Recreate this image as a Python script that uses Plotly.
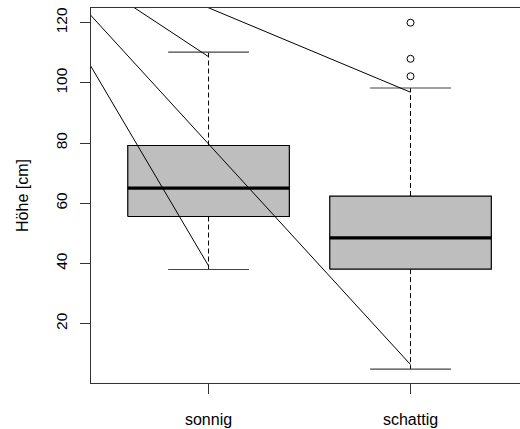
import plotly.graph_objects as go

# ---- data ----
categories = ["sonnig", "schattig"]
positions = [1, 2]
q1 = [55.6, 38.1]
median = [65.0, 48.5]
q3 = [79.2, 62.4]
whisker_lo = [38.0, 4.9]
whisker_hi = [110.2, 98.3]
outlier_x = [2, 2, 2]
outlier_y = [102.2, 108.0, 120.0]
# pointer lines: common origin and end points
pointer_origin = (0.0, 153.0)
pointer_end_x = [1, 1, 2, 2]
pointer_end_y = [39.2, 108.7, 6.4, 96.9]
y_ticks = [20, 40, 60, 80, 100, 120]

box_half = 0.4
staple_half = 0.2

fig = go.Figure()

for i, p in enumerate(positions):
    # dashed whiskers
    fig.add_trace(go.Scatter(x=[p, p], y=[q3[i], whisker_hi[i]], mode="lines",
                             line=dict(color="black", width=1, dash="5px,3px"),
                             hoverinfo="skip", showlegend=False))
    fig.add_trace(go.Scatter(x=[p, p], y=[q1[i], whisker_lo[i]], mode="lines",
                             line=dict(color="black", width=1, dash="5px,3px"),
                             hoverinfo="skip", showlegend=False))
    # staples
    for w in (whisker_hi[i], whisker_lo[i]):
        fig.add_trace(go.Scatter(x=[p - staple_half, p + staple_half], y=[w, w], mode="lines",
                                 line=dict(color="#444444", width=1.2),
                                 hoverinfo="skip", showlegend=False))
    # box
    fig.add_trace(go.Scatter(x=[p - box_half, p + box_half, p + box_half, p - box_half, p - box_half],
                             y=[q1[i], q1[i], q3[i], q3[i], q1[i]], mode="lines",
                             fill="toself", fillcolor="#bebebe",
                             line=dict(color="black", width=1.2),
                             hoverinfo="skip", showlegend=False))
    # median
    fig.add_trace(go.Scatter(x=[p - box_half, p + box_half], y=[median[i], median[i]], mode="lines",
                             line=dict(color="black", width=3.2),
                             hoverinfo="skip", showlegend=False))

# outliers
fig.add_trace(go.Scatter(x=outlier_x, y=outlier_y, mode="markers",
                         marker=dict(symbol="circle-open", size=7, color="black", line=dict(width=1)),
                         hoverinfo="skip", showlegend=False))

# pointer lines
for ex, ey in zip(pointer_end_x, pointer_end_y):
    fig.add_trace(go.Scatter(x=[pointer_origin[0], ex], y=[pointer_origin[1], ey], mode="lines",
                             line=dict(color="black", width=1),
                             hoverinfo="skip", showlegend=False))

fig.update_layout(
    width=520, height=429,
    margin=dict(l=91, r=0, t=8, b=46),
    paper_bgcolor="white", plot_bgcolor="white",
    font=dict(family="Liberation Sans, Arial, sans-serif", color="black"),
    showlegend=False,
)
fig.update_xaxes(range=[0.418, 2.542], tickvals=positions, ticktext=categories,
                 showgrid=False, zeroline=False, showline=True, linecolor="#333333", linewidth=1,
                 mirror=True, ticks="outside", ticklen=10, tickcolor="#333333",
                 tickfont=dict(size=16), ticklabelstandoff=12)
fig.update_yaxes(range=[0.28, 124.88], tickvals=y_ticks, tickangle=-90,
                 showgrid=False, zeroline=False, showline=True, linecolor="#333333", linewidth=1,
                 ticks="outside", ticklen=10, tickcolor="#333333",
                 tickfont=dict(size=15.5), ticklabelstandoff=7,
                 title=dict(text="Höhe [cm]", font=dict(size=16), standoff=20))

fig.write_html("out.html")
